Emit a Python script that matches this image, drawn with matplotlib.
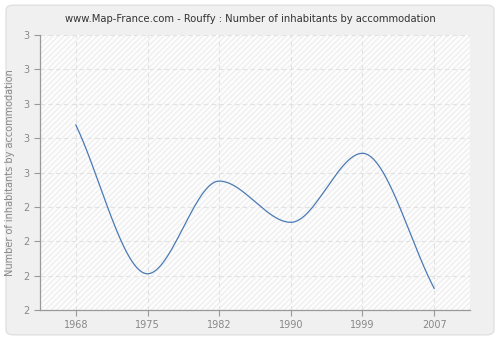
import numpy as np
import matplotlib
matplotlib.use("Agg")
import matplotlib.pyplot as plt
from matplotlib.patches import FancyBboxPatch, Rectangle

years = ["1968", "1975", "1982", "1990", "1999", "2007"]
values = [2.673, 2.132, 2.469, 2.319, 2.570, 2.079]
ytick_vals = [2.0, 2.125, 2.25, 2.375, 2.5, 2.625, 2.75, 2.875, 3.0]
ytick_labels = ["2", "2", "2", "2", "3", "3", "3", "3", "3"]
title = "www.Map-France.com - Rouffy : Number of inhabitants by accommodation"
ylabel = "Number of inhabitants by accommodation"


def monotone_cubic(x, y, n=60):
    x = np.asarray(x, float); y = np.asarray(y, float)
    h = np.diff(x); d = np.diff(y) / h
    m = np.zeros_like(y)
    m[0] = d[0]; m[-1] = d[-1]
    for i in range(1, len(y) - 1):
        if d[i - 1] * d[i] <= 0:
            m[i] = 0
        else:
            w1 = 2 * h[i] + h[i - 1]; w2 = h[i] + 2 * h[i - 1]
            m[i] = (w1 + w2) / (w1 / d[i - 1] + w2 / d[i])
    xs, ys = [], []
    for i in range(len(x) - 1):
        t = np.linspace(0, 1, n)
        h00 = 2 * t**3 - 3 * t**2 + 1
        h10 = t**3 - 2 * t**2 + t
        h01 = -2 * t**3 + 3 * t**2
        h11 = t**3 - t**2
        xs.append(x[i] + t * h[i])
        ys.append(h00 * y[i] + h10 * h[i] * m[i] + h01 * y[i + 1] + h11 * h[i] * m[i + 1])
    return np.concatenate(xs), np.concatenate(ys)


fig = plt.figure(figsize=(5, 3.4), dpi=100)
fig.patch.set_facecolor("white")
panel = FancyBboxPatch((0.012, 0.015), 0.976, 0.97, boxstyle="round,pad=0,rounding_size=0.015",
                       transform=fig.transFigure, facecolor="#f0f0f0", edgecolor="#dcdcdc",
                       linewidth=0.8, zorder=-10)
fig.patches.append(panel)

ax = fig.add_axes([0.08, 0.088, 0.86, 0.809])
ax.set_zorder(1)
ax.set_facecolor("white")
ax.add_patch(Rectangle((0, 0), 1, 1, transform=ax.transAxes, facecolor="#fdfdfd",
                       edgecolor="#efefef", hatch="//////", linewidth=0, zorder=0))

xi = np.arange(len(years))
sx, sy = monotone_cubic(xi, values)
ax.plot(sx, sy, color="#4a7ab5", linewidth=0.9, zorder=3)

ax.set_xlim(-0.5, len(years) - 0.5)
ax.set_ylim(2.0, 3.0)
ax.set_xticks(xi)
ax.set_xticklabels(years)
ax.set_yticks(ytick_vals)
ax.set_yticklabels(ytick_labels)
ax.grid(True, color="#e2e2e2", linestyle=(0, (4, 3)), linewidth=0.8, zorder=1)
for s in ["top", "right"]:
    ax.spines[s].set_visible(False)
for s in ["left", "bottom"]:
    ax.spines[s].set_color("#999999")
    ax.spines[s].set_linewidth(0.9)
ax.tick_params(axis="both", colors="#999999", labelcolor="#888888", labelsize=7, length=4, width=0.8)
ax.set_ylabel(ylabel, color="#888888", fontsize=7, labelpad=6)
fig.text(0.5, 0.945, title, ha="center", va="center", fontsize=7.2, color="#333333")

fig.savefig("out.png", dpi=100, facecolor=fig.get_facecolor())
